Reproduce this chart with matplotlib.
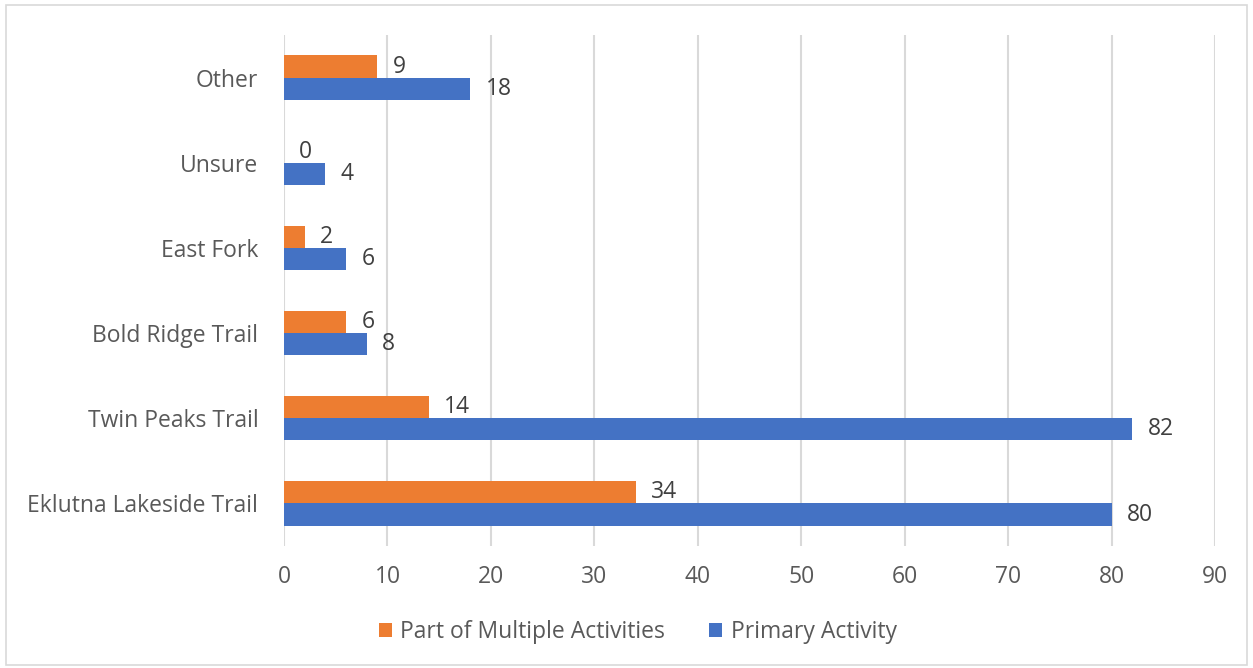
import numpy as np
import matplotlib
matplotlib.use("Agg")
import matplotlib.pyplot as plt
from matplotlib.patches import Rectangle

# ----------------------------------------------------------------------
CATEGORIES = ["Eklutna Lakeside Trail", "Twin Peaks Trail", "Bold Ridge Trail",
              "East Fork", "Unsure", "Other"]
MULTIPLE = [34, 14, 6, 2, 0, 9]      # Part of Multiple Activities
PRIMARY = [80, 82, 8, 6, 4, 18]      # Primary Activity
XTICKS = list(range(0, 100, 10))

ORANGE = "#ED7D31"
BLUE = "#4472C4"
TEXT = "#595959"
GRID = "#D9D9D9"
FS = 16.5

plt.rcParams["font.family"] = ["Open Sans", "DejaVu Sans"]


def main():
    fig = plt.figure(figsize=(12.53, 6.68), dpi=100)
    ax = fig.add_axes([0.2267, 0.1826, 0.7430, 0.7650])

    y = np.arange(len(CATEGORIES))
    h = 0.26
    b1 = ax.barh(y + h / 2, MULTIPLE, height=h, color=ORANGE,
                 label="Part of Multiple Activities", zorder=3)
    b2 = ax.barh(y - h / 2, PRIMARY, height=h, color=BLUE,
                 label="Primary Activity", zorder=3)

    for bars in (b1, b2):
        ax.bar_label(bars, padding=11, fontsize=FS, color="#404040")

    ax.set_xlim(0, 90)
    ax.set_ylim(-0.5, len(CATEGORIES) - 0.5)
    ax.set_xticks(XTICKS)
    ax.set_yticks(y)
    ax.set_yticklabels(CATEGORIES)
    ax.tick_params(axis="both", length=0, labelsize=FS, labelcolor=TEXT)
    ax.tick_params(axis="x", pad=14)
    ax.tick_params(axis="y", pad=18.5)
    ax.grid(axis="x", color=GRID, linewidth=1.5, zorder=0)
    for s in ax.spines.values():
        s.set_visible(False)

    fig.legend(handles=[b1, b2], loc="center", bbox_to_anchor=(0.5088, 0.054),
               ncol=2, frameon=False, fontsize=FS, labelcolor=TEXT,
               handlelength=0.6, handleheight=0.6, columnspacing=1.9,
               handletextpad=0.35)

    fig.patches.append(Rectangle((0.005, 0.005), 0.99, 0.988,
                                 transform=fig.transFigure, fill=False,
                                 edgecolor=GRID, linewidth=1.2))

    fig.savefig("out.png", dpi=100)


if __name__ == "__main__":
    main()
